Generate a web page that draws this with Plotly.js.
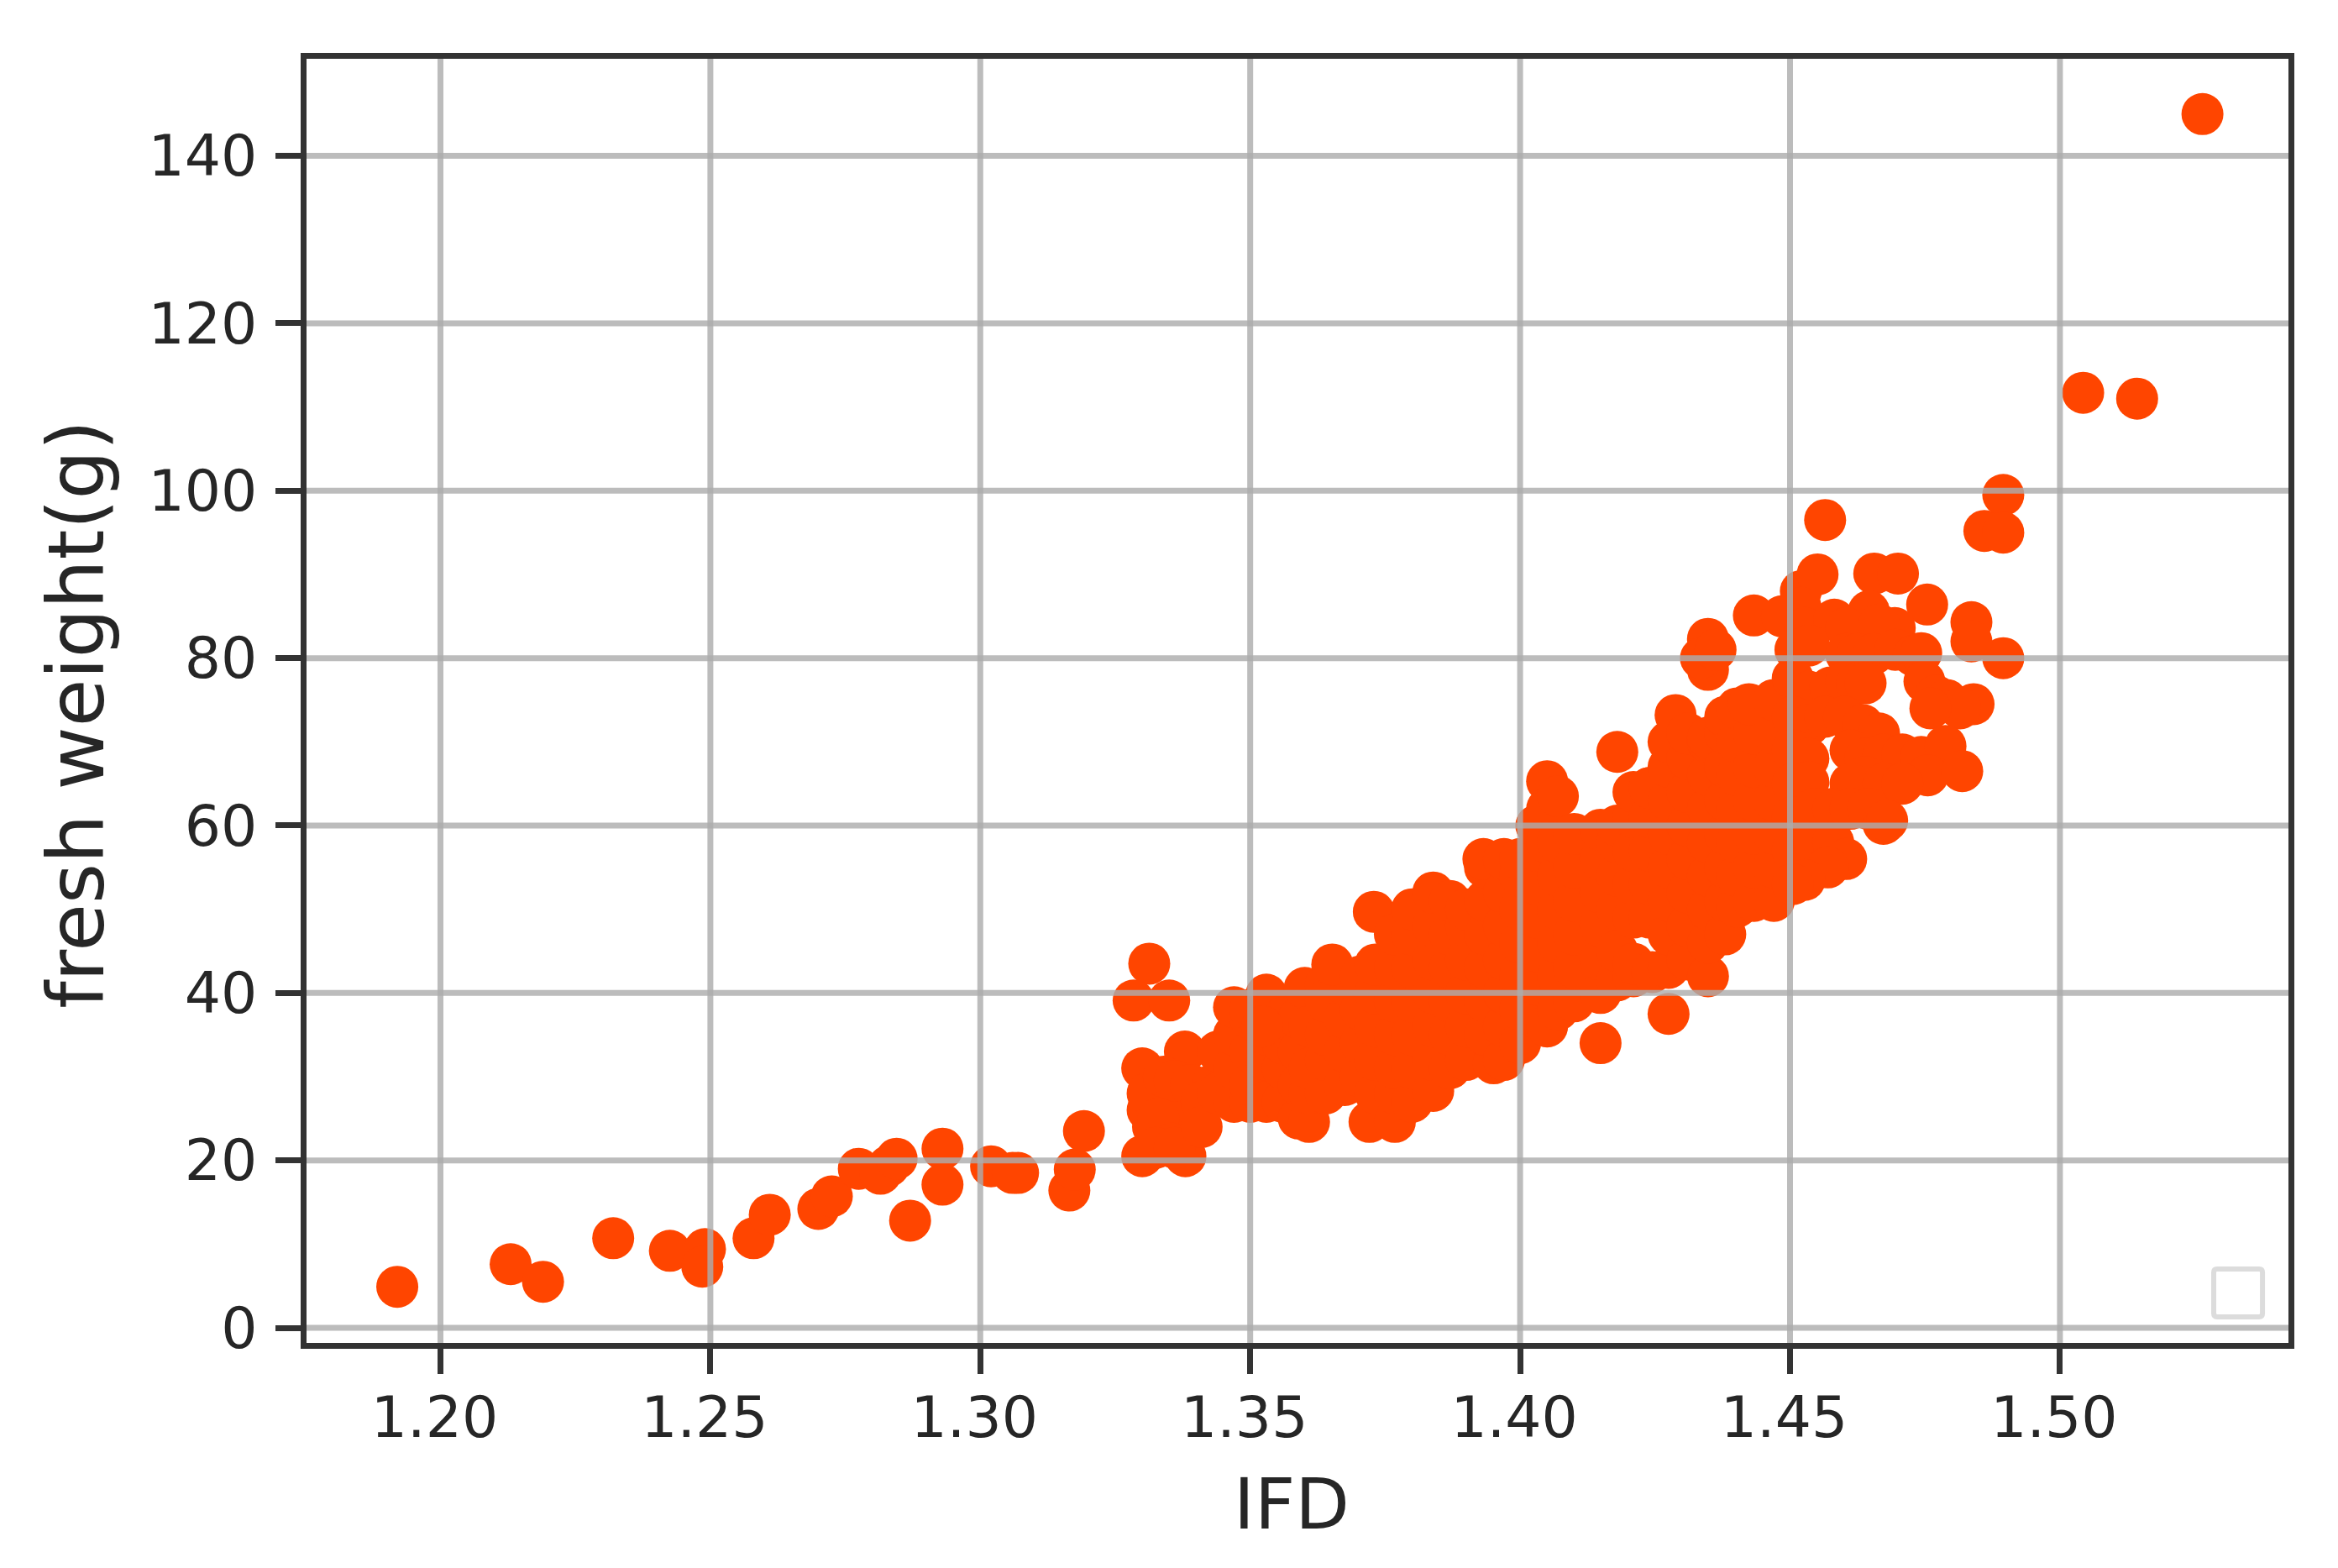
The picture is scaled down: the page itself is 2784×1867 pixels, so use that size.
<!DOCTYPE html>
<html>
<head>
<meta charset="utf-8">
<script src="https://cdn.plot.ly/plotly-3.0.1.min.js"></script>
<style>html,body{margin:0;padding:0;background:#fff}</style>
</head>
<body>
<div id="chart" style="width:2784px;height:1867px"></div>
<script>
// Values
var tailIfd = [1.192,1.213,1.219,1.232,1.2425,1.249,1.2485,1.258,1.261,1.270,1.2725,1.2775,1.283,1.2815,1.2845,1.287,1.293,1.293,1.302,1.307,1.306,1.3165,1.3175,1.3192,1.3313,1.3284,1.335,1.330,1.3379,1.330,1.338,1.332,1.335,1.333,1.337,1.331,1.339,1.331,1.334,1.336,1.333,1.3355,1.3325,1.336,1.339];
var tailWeight = [4.9,7.6,5.5,10.7,9.2,9.4,7.3,10.7,13.5,14.2,15.7,19,19.3,18.4,20.2,12.8,21.4,17.1,19.3,18.5,18.5,16.4,18.9,23.5,43.5,39.1,39.1,31,33,20.5,20.5,24,23,28,27,26,25,28,30,29.5,25,22,21.5,21.5,29];

var lowerBodyIfd = [1.343,1.341,1.341,1.344,1.344,1.347,1.347,1.347,1.347,1.350,1.350,1.350,1.350,1.350,1.353,1.353,1.353,1.353,1.353,1.356,1.356,1.356,1.356,1.359,1.359,1.359,1.359,1.3522,1.3601,1.3609,1.361,1.361,1.361,1.364,1.364,1.364,1.364,1.364,1.3675,1.3675,1.3675,1.3675,1.3652,1.3705,1.3705,1.3705,1.3705,1.3721,1.3732,1.3732,1.3732,1.3732,1.3732,1.3729,1.3768,1.3768,1.3768,1.3768,1.3768,1.3768,1.3768,1.380,1.380,1.380,1.380,1.380,1.380,1.380,1.3839,1.3839,1.3839,1.3839,1.3839,1.3839,1.3839,1.387,1.387,1.387,1.387,1.387,1.387,1.390,1.390,1.390,1.390,1.390,1.390,1.3951,1.3935,1.3935,1.3935,1.3935,1.3935,1.3935,1.3932,1.397,1.397,1.397,1.397,1.397,1.397,1.397,1.400,1.400,1.400,1.400,1.400,1.400,1.400];
var lowerBodyWeight = [29,27,24,28,33,27,31,35,38.3,27,29,33,37,38,28,32,35,39.8,27,27,31,34,37,25,29,33,37,36,40.6,24.6,28,31,36,41,28,32,35,39,29,33,37,41,43.4,30,34,38,42,24.6,28,32,36,40,43.4,49.7,24.6,28,31,35,39,43,47,27,31,35,39,43,47,50,28.3,32,36,40,44,48,52,31,35,39,43,47,51,32,36,40,44,48,50,31.6,35,39,43,47,51,55,56,32,36,40,44,48,52,56,34,38,42,46,50,54,56];

var upperBodyIfd = [1.403,1.403,1.403,1.403,1.403,1.403,1.403,1.405,1.405,1.405,1.405,1.407,1.407,1.407,1.407,1.407,1.407,1.407,1.410,1.410,1.410,1.410,1.410,1.410,1.4149,1.4149,1.4149,1.4149,1.4149,1.4149,1.4149,1.418,1.418,1.418,1.418,1.418,1.418,1.418,1.421,1.421,1.421,1.421,1.421,1.421,1.421,1.4245,1.424,1.424,1.424,1.424,1.424,1.424,1.4275,1.4275,1.4275,1.4275,1.4275,1.4275,1.4275,1.4275,1.4275,1.4288,1.431,1.431,1.431,1.431,1.431,1.431,1.431,1.431,1.4348,1.4348,1.4348,1.4348,1.4348,1.4348,1.4348,1.4348,1.4348,1.4348,1.4348,1.4335,1.4362,1.438,1.438,1.438,1.438,1.438,1.438,1.438,1.438,1.4402,1.4402,1.4402,1.4402,1.4402,1.4402,1.4402,1.4433,1.4433,1.4433,1.4433,1.4433,1.4433,1.4433,1.4424,1.447,1.447,1.447,1.447,1.447,1.447,1.447];
var upperBodyWeight = [37,41,45,49,53,57,60,36,65.3,62,58,38,42,46,50,54,58,63.5,39,43,47,51,55,59,34,40,44,48,52,56,59.5,41.5,45,50,54,58,60,68.8,42,43.5,49,53,57,61,64,42.5,49,53,57,61,64.5,64.5,37.5,43,47,51,55,59,63,67,70,73.2,44,48,52,56,60,64,68,71,42,46,50,54,58,62,66,70,70.5,78.6,82.3,80,81,47,51,55,59,63,67,71,73,50.3,54,58,62,66,70,74,51,55,59,63,67,71,85.1,74.5,51,55,59,63,67,71,75];

var crownIfd = [1.452,1.4551,1.4656,1.47,1.4754,1.452,1.4646,1.4485,1.4528,1.4582,1.4604,1.4694,1.4665,1.451,1.4535,1.4604,1.4625,1.4655,1.4695,1.4729,1.4743,1.4505,1.4535,1.4575,1.4604,1.4624,1.464,1.4749,1.477,1.479,1.484,1.4815,1.4505,1.4535,1.4565,1.46,1.4635,1.4665,1.476,1.4505,1.4534,1.4612,1.4639,1.4673,1.4708,1.4743,1.4788,1.4755,1.4505,1.4534,1.4639,1.4612,1.4673,1.4708,1.4819,1.4505,1.4545,1.458,1.4612,1.4645,1.4673,1.4505,1.4545,1.458,1.4604,1.457,1.4527,1.4505,1.468,1.486,1.4895,1.4895,1.4895,1.4836,1.4836,1.5043,1.5143,1.5264,1.4565];
var crownWeight = [88,90,90.1,90.1,86.4,86,85.6,85,83.6,84.6,83.6,83.6,84,81,81.5,80.5,80.5,80.5,81,80.3,80.6,77.6,76,76.5,77.2,76.9,77,77.2,75.5,75,74.5,74,73,72,73,73,72,71,74,69,68,69,68,68.5,68.5,68.2,69.5,66,65,65.2,65.8,65,65,65,66.5,61,62,62,62,62,60.2,57,58,58,56,55,53.5,53,60.6,95.2,99.5,95,80,84.3,82,111.7,111,145,96.5];

var xTicks = [1.20,1.25,1.30,1.35,1.40,1.45,1.50];
var yTicks = [0,20,40,60,80,100,120,140];
var xRange = [1.17519,1.54233];
var yRange = [-1.806,151.6];

var ifd = tailIfd.concat(lowerBodyIfd, upperBodyIfd, crownIfd);
var freshWeight = tailWeight.concat(lowerBodyWeight, upperBodyWeight, crownWeight);

// Grid is drawn over the dots in the reference, so it is one line trace above them
var gridX = [], gridY = [];
xTicks.forEach(function (t) { gridX.push(t, t, null); gridY.push(yRange[0], yRange[1], null); });
yTicks.forEach(function (t) { gridX.push(xRange[0], xRange[1], null); gridY.push(t, t, null); });

var font = 'DejaVu Sans, sans-serif';
var ink = '#262626';
var spine = '#333333';

var traces = [
  {type:'scatter', mode:'markers', x:ifd, y:freshWeight, hoverinfo:'skip',
   marker:{color:'#ff4500', size:50, line:{width:0}}},
  {type:'scatter', mode:'lines', x:gridX, y:gridY, hoverinfo:'skip', connectgaps:false,
   line:{color:'rgba(173,173,173,0.81)', width:7}}
];

var legendFrame = 'M 0.9640 0.0203 L 0.9852 0.0203 Q 0.9869 0.0203 0.9869 0.0230 L 0.9869 0.0549 Q 0.9869 0.0576 0.9852 0.0576 L 0.9640 0.0576 Q 0.9623 0.0576 0.9623 0.0549 L 0.9623 0.0230 Q 0.9623 0.0203 0.9640 0.0203 Z';

var layout = {
  width:2784, height:1867, showlegend:false,
  paper_bgcolor:'#ffffff', plot_bgcolor:'#ffffff',
  margin:{l:365, r:59, t:70, b:268, pad:0},
  font:{family:font, color:ink},
  xaxis:{range:xRange, tickmode:'array', tickvals:xTicks, ticktext:xTicks.map(function(t){return t.toFixed(2);}),
    showgrid:false, zeroline:false, showline:true, mirror:true, linecolor:spine, linewidth:7,
    ticks:'outside', ticklen:30, tickwidth:7, tickcolor:spine,
    tickfont:{family:font, size:68, color:ink}, ticklabelstandoff:-7, ticklabelshift:-7,
    title:{text:'IFD', font:{family:font, size:84, color:ink}, standoff:38}},
  yaxis:{range:yRange, tickmode:'array', tickvals:yTicks,
    showgrid:false, zeroline:false, showline:true, mirror:true, linecolor:spine, linewidth:7,
    ticks:'outside', ticklen:30, tickwidth:7, tickcolor:spine,
    tickfont:{family:font, size:68, color:ink}, ticklabelstandoff:8,
    title:{text:'fresh weight(g)', font:{family:font, size:92, color:ink}, standoff:36}},
  shapes:[{type:'path', xref:'paper', yref:'paper', path:legendFrame,
    line:{color:'#dcdcdc', width:6}, fillcolor:'rgba(255,255,255,0.8)', layer:'above'}]
};

Plotly.newPlot('chart', traces, layout, {displayModeBar:false, staticPlot:true}).then(function () {
  // The reference's axis titles sit slightly off the axis centres
  function nudge(sel, dx, dy) {
    var el = document.querySelector(sel);
    if (el) el.setAttribute('transform', 'translate(' + dx + ',' + dy + ') ' + (el.getAttribute('transform') || ''));
  }
  nudge('.xtitle', -7, 0);
  nudge('.ytitle', 11, 16);
});
</script>
</body>
</html>
